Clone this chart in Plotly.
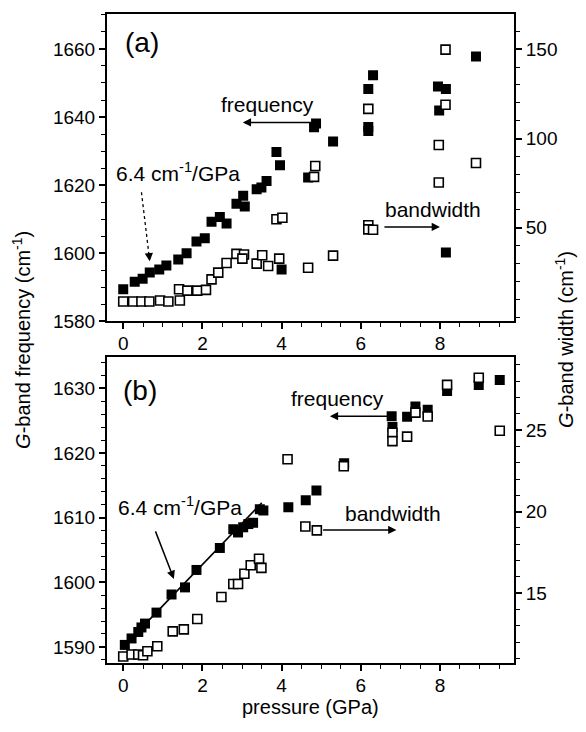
import plotly.graph_objects as go

# ---------------- data ----------------
# panel (a)
a_freq_p = [0.00, 0.29, 0.49, 0.67, 0.91, 1.09, 1.39, 1.60, 1.85, 2.06, 2.23, 2.44, 2.61, 2.86,
            3.03, 3.07, 3.37, 3.49, 3.62, 3.87, 3.96, 4.00, 4.67, 4.82, 4.87, 5.30, 6.19, 6.31,
            6.19, 6.19, 7.95, 8.15, 7.98, 8.15, 8.91]
a_freq = [1589.4, 1591.6, 1592.5, 1594.3, 1595.2, 1596.4, 1598.1, 1600.0, 1603.4, 1604.4, 1609.2,
          1610.6, 1608.7, 1614.5, 1616.9, 1613.7, 1618.8, 1619.3, 1621.2, 1629.7, 1625.8, 1595.2,
          1622.2, 1637.0, 1638.1, 1632.8, 1648.2, 1652.3, 1637.1, 1635.9, 1649.0, 1648.2, 1641.9,
          1600.2, 1657.8]
a_bw_p = [0.00, 0.25, 0.46, 0.66, 0.93, 1.14, 1.43, 1.41, 1.62, 1.87, 2.09, 2.23, 2.40, 2.61, 2.86,
          3.05, 3.01, 3.37, 3.51, 3.66, 3.94, 3.87, 4.02, 4.67, 4.82, 4.85, 5.30, 6.19, 6.19, 6.19,
          6.31, 7.97, 7.97, 8.14, 8.14, 8.91]
a_bw = [8.7, 8.7, 8.7, 8.7, 9.3, 8.7, 9.3, 15.6, 14.8, 14.8, 15.2, 21.1, 24.9, 30.3, 35.4,
        35.0, 32.7, 29.9, 34.6, 28.6, 32.7, 54.8, 55.6, 27.6, 78.5, 84.6, 34.4, 116.6, 51.4, 49.1,
        48.9, 96.4, 75.4, 149.8, 118.9, 86.3]

# panel (b)
b_freq_p = [0.04, 0.21, 0.38, 0.46, 0.55, 0.84, 1.22, 1.56, 1.85, 2.44, 2.78, 2.90, 3.03, 3.16,
            3.28, 3.45, 3.54, 4.17, 4.61, 4.88, 5.58, 6.78, 6.80, 7.17, 7.38, 7.69, 8.18, 8.98, 9.51]
b_freq = [1590.3, 1591.3, 1592.3, 1593.0, 1593.6, 1595.3, 1598.1, 1599.2, 1601.9, 1605.3, 1608.2,
          1607.7, 1608.5, 1609.0, 1609.2, 1611.3, 1611.1, 1611.6, 1612.7, 1614.2, 1618.4, 1625.7,
          1624.0, 1625.6, 1627.2, 1626.7, 1629.6, 1630.5, 1631.3]
b_bw_p = [0.00, 0.21, 0.38, 0.50, 0.61, 0.86, 1.25, 1.53, 1.87, 2.48, 2.78, 2.90, 3.06, 3.22, 3.43,
          3.49, 4.15, 4.60, 4.89, 5.57, 6.80, 6.80, 7.17, 7.38, 7.69, 8.18, 8.98, 9.51]
b_bw = [11.12, 11.24, 11.24, 11.20, 11.44, 11.75, 12.66, 12.78, 13.42, 14.77, 15.56, 15.56, 16.19,
        16.71, 17.11, 16.55, 23.21, 19.09, 18.85, 22.78, 24.84, 24.32, 24.60, 26.07, 25.83, 27.77,
        28.21, 24.96]

# linear fit (6.4 cm-1/GPa) in panel (b), end points
fit_p = [0.05, 3.50]
fit_f = [1590.3, 1612.3]

x_ticks = [0, 2, 4, 6, 8]

FONT = "Liberation Sans, Arial, Helvetica, sans-serif"
BLACK = "black"

W, H = 586, 732
OFF = 8  # the page body margin shifts the figure by 8 px


def xp(px):
    return (px - OFF) / W


def yp(py):
    return 1 - (py - OFF) / H


fig = go.Figure()

sq = 10
fig.add_trace(go.Scatter(x=a_freq_p, y=a_freq, mode="markers", xaxis="x", yaxis="y",
                         marker=dict(symbol="square", size=sq, color=BLACK, line=dict(width=0)),
                         showlegend=False))
fig.add_trace(go.Scatter(x=a_bw_p, y=a_bw, mode="markers", xaxis="x", yaxis="y2",
                         marker=dict(symbol="square", size=sq - 1, color="white",
                                     line=dict(width=1.6, color=BLACK)),
                         showlegend=False))
fig.add_trace(go.Scatter(x=fit_p, y=fit_f, mode="lines", xaxis="x2", yaxis="y3",
                         line=dict(color=BLACK, width=1.6), showlegend=False))
fig.add_trace(go.Scatter(x=b_freq_p, y=b_freq, mode="markers", xaxis="x2", yaxis="y3",
                         marker=dict(symbol="square", size=sq, color=BLACK, line=dict(width=0)),
                         showlegend=False))
fig.add_trace(go.Scatter(x=b_bw_p, y=b_bw, mode="markers", xaxis="x2", yaxis="y4",
                         marker=dict(symbol="square", size=sq - 1, color="white",
                                     line=dict(width=1.6, color=BLACK)),
                         showlegend=False))

xdom = [xp(107), xp(514)]
top_dom = [yp(326), yp(14)]
bot_dom = [yp(673), yp(362)]

tickfont = dict(family=FONT, size=19, color=BLACK)


def axstyle(**kw):
    d = dict(showline=True, linecolor=BLACK, linewidth=2, ticks="outside", ticklen=6,
             tickwidth=1.5, tickcolor=BLACK, showgrid=False, zeroline=False, tickfont=tickfont)
    d.update(kw)
    return d


minor = lambda dt: dict(dtick=dt, ticks="outside", ticklen=4, tickwidth=1.2, tickcolor=BLACK,
                        showgrid=False)

fig.update_layout(
    width=W, height=H, margin=dict(l=0, r=0, t=0, b=0),
    paper_bgcolor="white", plot_bgcolor="white",
    font=dict(family=FONT, color=BLACK),
    xaxis=axstyle(domain=xdom, anchor="y", range=[-0.41, 9.87], tickvals=x_ticks,
                  minor=minor(0.5), mirror=True, ticklabelstandoff=-2),
    yaxis=axstyle(domain=top_dom, anchor="x", range=[1580, 1670.3], dtick=20, minor=minor(5)),
    yaxis2=axstyle(overlaying="y", side="right", anchor="x", range=[-2.34, 169.8],
                   tickvals=[50, 100, 150], minor=minor(10)),
    xaxis2=axstyle(domain=xdom, anchor="y3", range=[-0.41, 9.87], tickvals=x_ticks,
                   minor=minor(0.5), mirror=True, ticklabelstandoff=-2),
    yaxis3=axstyle(domain=bot_dom, anchor="x2", range=[1587.5, 1634.9], dtick=10, minor=minor(2)),
    yaxis4=axstyle(overlaying="y3", side="right", anchor="x2", range=[10.72, 29.5], dtick=5,
                   minor=minor(1)),
)

txt = dict(family=FONT, size=21, color=BLACK)
lab = dict(family=FONT, size=28, color=BLACK)
ann = []
# panel labels
ann.append(dict(x=0.47, y=1661.8, xref="x", yref="y", text="(a)", showarrow=False, font=lab))
ann.append(dict(x=0.42, y=1629.7, xref="x2", yref="y3", text="(b)", showarrow=False, font=lab))
# texts panel (a)
ann.append(dict(x=3.64, y=1643.6, xref="x", yref="y", text="frequency", showarrow=False, font=txt))
ann.append(dict(x=1.39, y=1623.9, xref="x", yref="y", text="6.4 cm<sup>-1</sup>/GPa",
                showarrow=False, font=txt))
ann.append(dict(x=7.82, y=1612.7, xref="x", yref="y", text="bandwidth", showarrow=False, font=txt))
# texts panel (b)
ann.append(dict(x=5.40, y=1628.5, xref="x2", yref="y3", text="frequency", showarrow=False, font=txt))
ann.append(dict(x=1.43, y=1611.8, xref="x2", yref="y3", text="6.4 cm<sup>-1</sup>/GPa",
                showarrow=False, font=txt))
ann.append(dict(x=6.81, y=1610.7, xref="x2", yref="y3", text="bandwidth", showarrow=False, font=txt))


def arrow(xh, yh, xt, yt, xr, yr):
    return dict(x=xh, y=yh, ax=xt, ay=yt, xref=xr, yref=yr, axref=xr, ayref=yr, text="",
                showarrow=True, arrowhead=2, arrowsize=1.1, arrowwidth=1.5, arrowcolor=BLACK)


ann.append(arrow(3.02, 1638.4, 4.79, 1638.4, "x", "y"))
ann.append(arrow(8.00, 1607.7, 6.56, 1607.7, "x", "y"))
ann.append(arrow(0.67, 1597.6, 0.645, 1600.2, "x", "y"))
ann.append(arrow(5.22, 1625.7, 6.79, 1625.7, "x2", "y3"))
ann.append(arrow(6.90, 1608.1, 5.01, 1608.1, "x2", "y3"))
ann.append(arrow(1.28, 1600.5, 0.80, 1608.1, "x2", "y3"))

# axis titles
ttl = dict(family=FONT, size=20, color=BLACK)
ann.append(dict(x=xp(22), y=yp(345), xref="paper", yref="paper", textangle=-90,
                xanchor="center", yanchor="middle", showarrow=False,
                text="<i>G</i>-band frequency (cm<sup>-1</sup>)", font=ttl))
ann.append(dict(x=xp(565), y=yp(345), xref="paper", yref="paper", textangle=-90,
                xanchor="center", yanchor="middle", showarrow=False,
                text="<i>G</i>-band width (cm<sup>-1</sup>)", font=ttl))
ann.append(dict(x=xp(310), y=yp(718), xref="paper", yref="paper", showarrow=False,
                xanchor="center", yanchor="middle", text="pressure (GPa)", font=ttl))
fig.update_layout(annotations=ann)

# dotted leader line for the arrow in panel (a)
fig.add_shape(type="line", xref="x", yref="y", x0=0.46, y0=1617.9, x1=0.65, y1=1599.5,
              line=dict(color=BLACK, width=1.3, dash="dot"))

fig.write_html("out.html")
